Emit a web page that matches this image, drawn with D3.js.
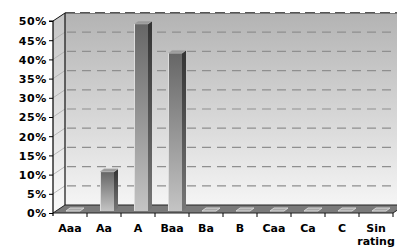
<!DOCTYPE html>
<html><head><meta charset="utf-8">
<script src="https://cdn.jsdelivr.net/npm/d3@7"></script>
<style>html,body{margin:0;padding:0;background:#fff;overflow:hidden}</style>
</head><body>
<svg id="c" width="397" height="247"></svg>
<script>
const categories = ["Aaa","Aa","A","Baa","Ba","B","Caa","Ca","C","Sin rating"];
const values = [0, 10.2, 48.7, 41.1, 0, 0, 0, 0, 0, 0];
const yTicks = [0,5,10,15,20,25,30,35,40,45,50];

const svg = d3.select("#c");
const defs = svg.append("defs");
const left = 53, right = 393, yBot = 213, yTop = 21;
const DX = 12, DY = 8; // wall depth
const x = d3.scaleBand().domain(categories).range([left, right]).paddingInner(0).paddingOuter(0);
const y = d3.scaleLinear().domain([0, 50]).range([yBot, yTop]);

// gradients
const gw = defs.append("linearGradient").attr("id","wall").attr("x1",0).attr("y1",0).attr("x2",0).attr("y2",1);
gw.append("stop").attr("offset","0%").attr("stop-color","#b3b3b3");
gw.append("stop").attr("offset","100%").attr("stop-color","#f5f5f5");
const gs = defs.append("linearGradient").attr("id","side").attr("x1",0).attr("y1",0).attr("x2",0).attr("y2",1);
gs.append("stop").attr("offset","0%").attr("stop-color","#c4c4c4");
gs.append("stop").attr("offset","100%").attr("stop-color","#fafafa");
const gb = defs.append("linearGradient").attr("id","barf").attr("x1",0).attr("y1",0).attr("x2",0).attr("y2",1);
gb.append("stop").attr("offset","0%").attr("stop-color","#666");
gb.append("stop").attr("offset","100%").attr("stop-color","#c4c4c4");
const gbs = defs.append("linearGradient").attr("id","bars").attr("x1",0).attr("y1",0).attr("x2",0).attr("y2",1);
gbs.append("stop").attr("offset","0%").attr("stop-color","#333");
gbs.append("stop").attr("offset","100%").attr("stop-color","#777");

const line = d3.line();
// back wall
svg.append("rect").attr("x", left+DX).attr("y", y(50)-DY).attr("width", 400).attr("height", y(0)-y(50))
  .attr("fill","url(#wall)");
// left side wall
svg.append("path").attr("d", line([[left,y(50)],[left+DX,y(50)-DY],[left+DX,y(0)-DY],[left,y(0)]])+"Z")
  .attr("fill","url(#side)");
// gridlines on back wall
svg.append("g").selectAll("line").data(yTicks.filter(t=>t>0&&t<50)).join("line")
  .attr("x1", left+DX+2).attr("x2", 400).attr("y1", d=>y(d)-DY).attr("y2", d=>y(d)-DY)
  .attr("stroke","#8f8f8f").attr("stroke-width",1.2).attr("stroke-dasharray","9,6");
// top edge
svg.append("line").attr("x1",left+DX).attr("x2",400).attr("y1",y(50)-DY).attr("y2",y(50)-DY)
  .attr("stroke","#555").attr("stroke-width",2).attr("stroke-dasharray","10,5");
svg.append("line").attr("x1",left+DX).attr("x2",400).attr("y1",y(50)-DY+0.5).attr("y2",y(50)-DY+0.5)
  .attr("stroke","#777").attr("stroke-width",1);
// side wall tick lines
svg.append("g").selectAll("line").data(yTicks.filter(t=>t>0&&t<50)).join("line")
  .attr("x1", left).attr("y1", d=>y(d)).attr("x2", left+DX).attr("y2", d=>y(d)-DY)
  .attr("stroke","#aaa").attr("stroke-width",0.8);
// floor
svg.append("path").attr("d", line([[left,y(0)],[left+DX,y(0)-DY],[right+DX,y(0)-DY],[right,y(0)]])+"Z")
  .attr("fill","#7a7a7a").attr("stroke","#222").attr("stroke-width",1);
// back wall left edge and top diagonal
svg.append("line").attr("x1",left+DX).attr("x2",left+DX).attr("y1",y(50)-DY).attr("y2",y(0)-DY).attr("stroke","#111").attr("stroke-width",1.2);
svg.append("line").attr("x1",left).attr("y1",y(50)).attr("x2",left+DX).attr("y2",y(50)-DY).attr("stroke","#111").attr("stroke-width",1);

// bars
const bw = 14, bdx = 4, bdy = 3, off = 13, lift = 2;
const bars = svg.append("g");
categories.forEach((c,i)=>{
  const v = values[i];
  const x0 = x(c) + off, yb = y(0) - lift, yt = y(v) - lift;
  if (v > 0) {
    bars.append("rect").attr("x",x0).attr("y",yt).attr("width",bw).attr("height",yb-yt).attr("fill","url(#barf)");
    bars.append("path").attr("d", line([[x0+bw,yt],[x0+bw+bdx,yt-bdy],[x0+bw+bdx,yb-bdy],[x0+bw,yb]])+"Z").attr("fill","url(#bars)");
    bars.append("path").attr("d", line([[x0,yt],[x0+bdx,yt-bdy],[x0+bw+bdx,yt-bdy],[x0+bw,yt]])+"Z").attr("fill","#9a9a9a").attr("stroke","#bbb").attr("stroke-width",0.5);
    bars.append("line").attr("x1",x0+0.5).attr("x2",x0+0.5).attr("y1",yt).attr("y2",yb).attr("stroke","#ddd").attr("stroke-width",1);
  } else {
    bars.append("path").attr("d", line([[x0,yb],[x0+bdx,yb-bdy],[x0+bw+bdx,yb-bdy],[x0+bw,yb]])+"Z")
      .attr("fill","#a8a8a8").attr("stroke","#d8d8d8").attr("stroke-width",1);
  }
});

// y axis
const ya = svg.append("g").attr("transform",`translate(${left},0)`)
  .call(d3.axisLeft(y).tickValues(yTicks).tickSize(4).tickFormat(d=>d+"%"));
ya.select(".domain").attr("stroke","#000").attr("stroke-width",1.2).attr("d",`M-4,${y(50)}H0V${y(0)+3}`);
ya.selectAll(".tick line").attr("stroke","#000");
ya.selectAll("text").attr("font-family","DejaVu Sans, Verdana, sans-serif").attr("font-weight","bold")
  .attr("font-size","11px").attr("fill","#000").attr("x",-6).attr("dy","0.36em").attr("letter-spacing","0.6px");

// x axis
const xa = svg.append("g").attr("transform",`translate(0,${y(0)})`)
  .call(d3.axisBottom(x).tickSize(0).tickFormat(""));
xa.select(".domain").remove();
svg.append("g").selectAll("line").data(categories).join("line")
  .attr("x1", d=>x(d)+x.bandwidth()).attr("x2", d=>x(d)+x.bandwidth()).attr("y1",y(0)).attr("y2",y(0)+4)
  .attr("stroke","#000");
svg.append("g").selectAll("text").data(categories).join("text")
  .attr("x", d=>x(d)+x.bandwidth()/2).attr("y", 232).attr("text-anchor","middle")
  .attr("font-family","DejaVu Sans, Verdana, sans-serif").attr("font-weight","bold").attr("font-size","11px").attr("fill","#000")
  .each(function(d){
    const parts = d.split(" ");
    const t = d3.select(this);
    parts.forEach((p,k)=>t.append("tspan").attr("x", x(d)+x.bandwidth()/2).attr("dy", k===0?0:13).text(p));
  });
</script>
</body></html>
